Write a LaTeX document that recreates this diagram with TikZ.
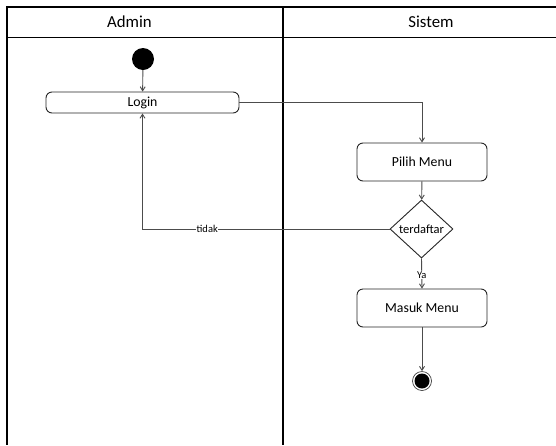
\documentclass[tikz,border=0pt]{standalone}
\usepackage{fontspec}
\setmainfont{Carlito}
\usetikzlibrary{shapes.geometric,arrows.meta}
\begin{document}
\begin{tikzpicture}[x=1pt,y=-1pt,
  lane/.style={line width=1.2pt,draw=black},
  action/.style={draw=black!85,line width=0.9pt,rounded corners=6pt,fill=white,
    inner sep=0pt,font=\fontsize{13.8}{16}\selectfont},
  decision/.style={draw=black!85,line width=0.9pt,diamond,fill=white,inner sep=0pt,
    font=\fontsize{12.5}{14}\selectfont},
  flow/.style={draw=black!70,line width=0.9pt,-{Straight Barb[length=4pt,width=5pt]}},
  guard/.style={fill=white,inner sep=0.5pt,font=\fontsize{10.5}{12}\selectfont},
  header/.style={font=\fontsize{16.8}{19}\selectfont}]
\useasboundingbox (0,0) rectangle (556,445);
\fill[white] (0,0) rectangle (556,445);

% swimlane frame
\draw[lane] (556,7) -- (7,7) -- (7,445);
\draw[lane] (7,37.5) -- (556,37.5);
\draw[lane] (283,7) -- (283,445);
\node[header] (hAdmin) at (129.5,22) {Admin};
\node[header] (hSistem) at (431,22) {Sistem};

% start and end states
\node[circle,fill=black,minimum size=22pt,inner sep=0pt] (start) at (143,59) {};
\node[circle,draw=black!75,line width=0.7pt,minimum size=19pt,inner sep=0pt] (finish) at (422,381) {};
\node[circle,fill=black,minimum size=15pt,inner sep=0pt] (finishDot) at (422,381) {};

% activities
\node[action,minimum width=193pt,minimum height=21pt] (login) at (142.5,102.5) {Login};
\node[action,minimum width=130pt,minimum height=38pt] (pilih) at (422,162) {Pilih Menu};
\node[decision,minimum width=63pt,minimum height=58pt] (cek) at (421.5,229) {terdaftar};
\node[action,minimum width=130pt,minimum height=38pt] (masuk) at (422,308) {Masuk Menu};

% control flow
\draw[flow] (start) -- (login);
\draw[flow] (login.east) -| (pilih.north);
\draw[flow] (pilih) -- (cek);
\draw[flow] (cek.west) -| node[guard,pos=0.369] {tidak} (login.south);
\draw[flow] (cek.south) -- node[guard,pos=0.55] {Ya} (masuk.north);
\draw[flow] (masuk) -- (finish);
\end{tikzpicture}
\end{document}
